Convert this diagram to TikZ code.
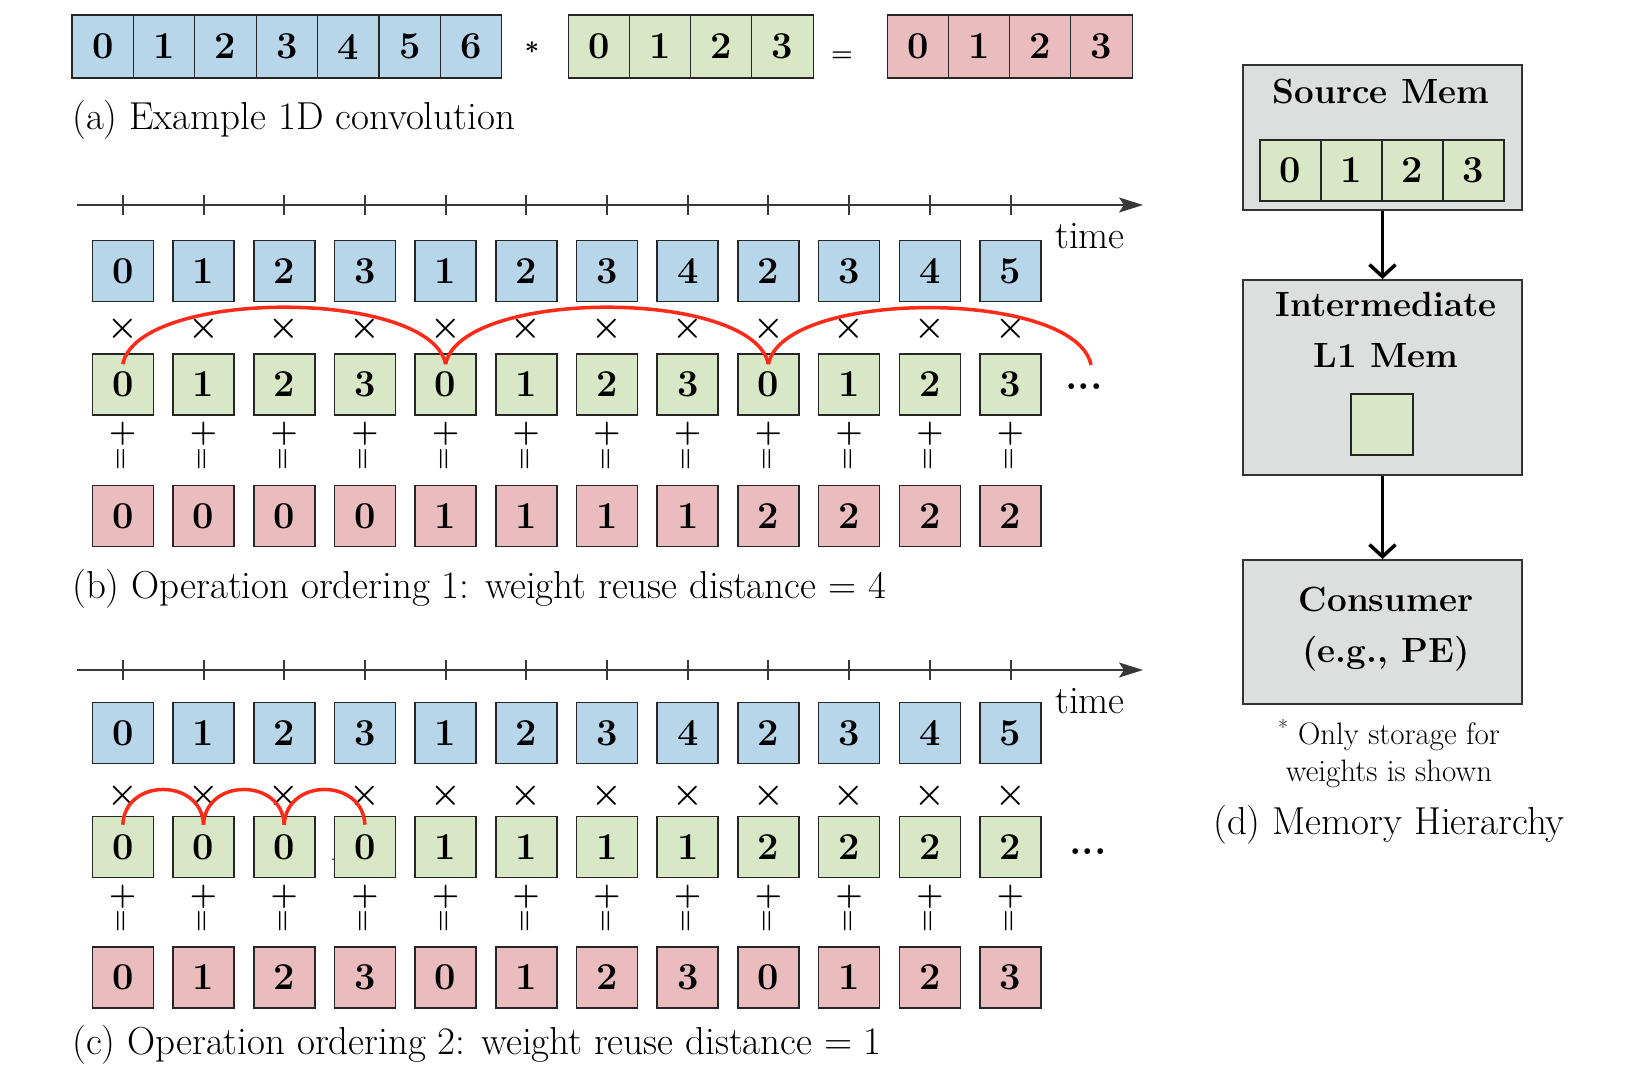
\documentclass[tikz,border=0pt]{standalone}
\usepackage{amsmath}
\usepackage{amssymb}
\usepackage{tikz}
\usetikzlibrary{arrows.meta}

\definecolor{inblue}{RGB}{184,214,234}
\definecolor{wgreen}{RGB}{216,231,197}
\definecolor{outpink}{RGB}{235,188,189}
\definecolor{memgray}{RGB}{220,223,222}
\definecolor{reusered}{RGB}{255,42,24}
\definecolor{axisgray}{RGB}{55,55,60}

\begin{document}
\begin{tikzpicture}[x=1pt,y=1pt,yscale=-1,xscale=1,
  cell/.style={draw=black!85,line width=1.6pt,minimum width=61pt,minimum height=61pt,inner sep=0pt,font=\fontsize{38}{40}\selectfont\bfseries},
  incell/.style={cell,fill=inblue},
  wcell/.style={cell,fill=wgreen},
  outcell/.style={cell,fill=outpink},
  stripcell/.style={cell,line width=1.2pt,minimum width=61.4pt,minimum height=63pt},
  opsign/.style={inner sep=0pt,font=\fontsize{26}{26}\selectfont},
  mulsign/.style={inner sep=0pt,font=\fontsize{35}{35}\selectfont\bfseries},
  addsign/.style={inner sep=0pt,font=\fontsize{31}{31}\selectfont\bfseries},
  eqsign/.style={inner sep=0pt,rotate=90,font=\fontsize{26}{26}\selectfont\bfseries},
  dotsign/.style={inner sep=0pt,font=\fontsize{40}{40}\selectfont\bfseries},
  caption/.style={anchor=base west,inner sep=0pt,font=\fontsize{39}{44}\selectfont},
  timeline/.style={draw=axisgray,line width=1.8pt,-{Stealth[length=24pt,width=15pt,inset=5pt]}},
  tick/.style={draw=axisgray,line width=2pt},
  reuse/.style={draw=reusered,line width=3.5pt},
  membox/.style={draw=black!80,fill=memgray,line width=2pt,minimum width=279pt,inner sep=0pt},
  memlabel/.style={inner sep=0pt,align=center,font=\fontsize{35}{51}\selectfont\bfseries},
  memarrow/.style={draw=black,line width=3.5pt,-{Straight Barb[length=12pt,width=26pt]}}
]
\useasboundingbox (0,0) rectangle (1637,1073);

% (a) example 1D convolution
\foreach \i in {0,...,6}
  \node[stripcell,fill=inblue] (a-in-\i) at ({102.7+61.4*\i},46.5) {\i};
\node[opsign] (a-star) at (532,48) {$\boldsymbol{*}$};
\foreach \i in {0,...,3}
  \node[stripcell,fill=wgreen] (a-w-\i) at ({599.5+61*\i},46.5) {\i};
\node[opsign] (a-eq) at (842,57) {$\boldsymbol{=}$};
\foreach \i in {0,...,3}
  \node[stripcell,fill=outpink] (a-out-\i) at ({918.5+61*\i},46.5) {\i};
\node[caption] (cap-a) at (72,129) {(a) Example 1D convolution};

% (b) ordering 1
\coordinate (tb-start) at (77,205);
\coordinate (tb-end) at (1143,205);
\draw[timeline] (tb-start) -- (tb-end);
\node[caption] (time-b) at (1055,248) {time};
\foreach \i/\a/\w/\o in {0/0/0/0,1/1/1/0,2/2/2/0,3/3/3/0,4/1/0/1,5/2/1/1,6/3/2/1,7/4/3/1,8/2/0/2,9/3/1/2,10/4/2/2,11/5/3/2}{
  \draw[tick] ({122.8+80.7*\i},195) -- ({122.8+80.7*\i},215);
  \node[incell] (in-b-\i) at ({122.8+80.7*\i},271) {\a};
  \node[mulsign] at ({122.8+80.7*\i},329) {×};
  \node[wcell] (w-b-\i) at ({122.8+80.7*\i},384.5) {\w};
  \node[addsign] at ({122.8+80.7*\i},434) {+};
  \node[eqsign] at ({122.8+80.7*\i},459) {=};
  \node[outcell] (o-b-\i) at ({122.8+80.7*\i},516) {\o};
}
\coordinate (w-b-next) at (1091,365);
\draw[reuse] ([yshift=11pt]w-b-0.north) .. controls +(15,-76) and +(-15,-76) .. ([yshift=11pt]w-b-4.north);
\draw[reuse] ([yshift=11pt]w-b-4.north) .. controls +(15,-76) and +(-15,-76) .. ([yshift=11pt]w-b-8.north);
\draw[reuse] ([yshift=11pt]w-b-8.north) .. controls +(15,-76) and +(-15,-76) .. (w-b-next);
\node[dotsign] (dots-b) at (1084,387) {...};
\node[caption] (cap-b) at (72,598) {(b) Operation ordering 1: weight reuse distance = 4};

% (c) ordering 2
\coordinate (tc-start) at (77,670);
\coordinate (tc-end) at (1143,670);
\draw[timeline] (tc-start) -- (tc-end);
\node[caption] (time-c) at (1055,713) {time};
\foreach \i/\a/\w/\o in {0/0/0/0,1/1/0/1,2/2/0/2,3/3/0/3,4/1/1/0,5/2/1/1,6/3/1/2,7/4/1/3,8/2/2/0,9/3/2/1,10/4/2/2,11/5/2/3}{
  \draw[tick] ({122.8+80.7*\i},660) -- ({122.8+80.7*\i},680);
  \node[incell] (in-c-\i) at ({122.8+80.7*\i},733) {\a};
  \node[mulsign] at ({122.8+80.7*\i},796) {×};
  \node[wcell] (w-c-\i) at ({122.8+80.7*\i},847) {\w};
  \node[addsign] at ({122.8+80.7*\i},897) {+};
  \node[eqsign] at ({122.8+80.7*\i},921) {=};
  \node[outcell] (o-c-\i) at ({122.8+80.7*\i},977.5) {\o};
}
\draw[reuse] ([yshift=9pt]w-c-0.north) .. controls +(2,-47) and +(-2,-47) .. ([yshift=9pt]w-c-1.north);
\draw[reuse] ([yshift=9pt]w-c-1.north) .. controls +(2,-47) and +(-2,-47) .. ([yshift=9pt]w-c-2.north);
\draw[reuse] ([yshift=9pt]w-c-2.north) .. controls +(2,-47) and +(-2,-47) .. ([yshift=9pt]w-c-3.north);
\node[inner sep=0pt,font=\fontsize{20}{20}\selectfont] (stray-c) at (333,860) {.};
\node[dotsign] (dots-c) at (1088,852) {...};
\node[caption] (cap-c) at (72,1054) {(c) Operation ordering 2: weight reuse distance = 1};

% (d) memory hierarchy
\node[membox,minimum height=145pt] (src) at (1382.5,137.5) {};
\node[memlabel] (src-lbl) at (1381,91) {Source Mem};
\foreach \i in {0,...,3}
  \node[stripcell,fill=wgreen,minimum width=61pt,minimum height=61pt] (src-\i) at ({1290.5+61*\i},170.5) {\i};
\node[membox,minimum height=195pt] (mid) at (1382.5,377.5) {};
\node[memlabel] (mid-lbl) at (1386,329.5) {Intermediate\\L1 Mem};
\node[wcell,minimum width=62pt] (mid-buf) at (1382,424.5) {};
\node[membox,minimum height=144pt] (con) at (1382.5,632) {};
\node[memlabel] (con-lbl) at (1386,629.5) {Consumer\\(e.g., PE)};
\draw[memarrow] (src.south) -- (mid.north);
\draw[memarrow] (mid.south) -- (con.north);
\node[inner sep=0pt,align=center,font=\fontsize{31}{37}\selectfont] (note) at (1389,753.5) {\textsuperscript{*} Only storage for\\weights is shown};
\node[caption] (cap-d) at (1213,834) {(d) Memory Hierarchy};

\end{tikzpicture}
\end{document}
